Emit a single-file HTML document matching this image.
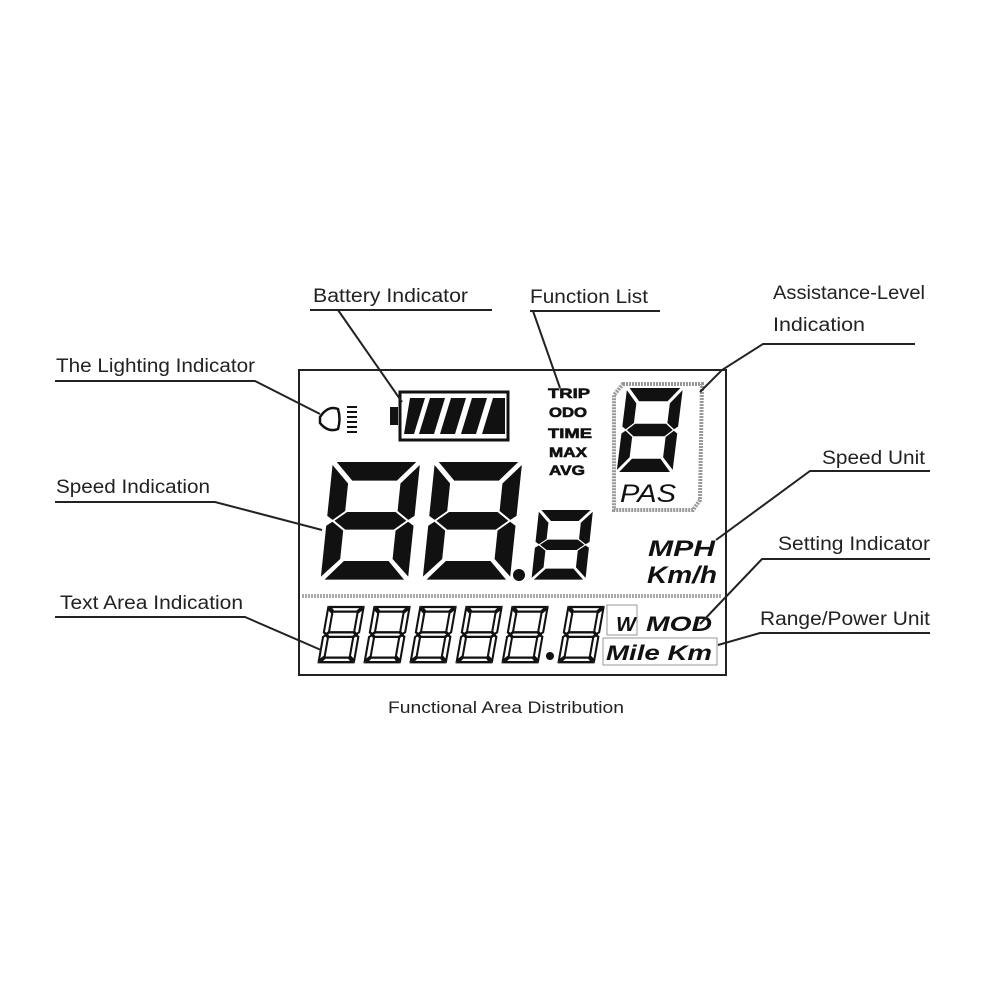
<!DOCTYPE html>
<html><head><meta charset="utf-8"><style>
html,body{margin:0;padding:0;background:#fff;}
svg{display:block}
.lb{font-family:"Liberation Sans",sans-serif;font-size:19px;fill:#222;}
</style></head><body>
<svg width="1000" height="1000" viewBox="0 0 1000 1000" xmlns="http://www.w3.org/2000/svg">
<defs>
<g id="dg">
<polygon points="9,0 91,0 73,19 27,19"/>
<polygon points="95,3 95,55 89,59 77,50 77,22"/>
<polygon points="5,3 23,22 23,50 11,59 5,55"/>
<polygon points="13,60 25,51 75,51 87,60 75,69 25,69"/>
<polygon points="5,65 11,61 23,70 23,99 5,117"/>
<polygon points="95,65 89,61 77,70 77,99 95,117"/>
<polygon points="27,101 73,101 91,120 9,120"/>
</g>
<g id="dgo">
<polygon points="12,0 88,0 78,10 22,10"/>
<polygon points="92,3 92,55 86,59 80,54 80,13"/>
<polygon points="8,3 20,13 20,54 14,59 8,55"/>
<polygon points="14,60 22,55 78,55 86,60 78,65 22,65"/>
<polygon points="8,65 14,61 20,66 20,107 8,117"/>
<polygon points="92,65 86,61 80,66 80,107 92,117"/>
<polygon points="22,110 78,110 88,120 12,120"/>
</g>
</defs>
<rect x="0" y="0" width="1000" height="1000" fill="#fff"/>
<rect x="299" y="370" width="427" height="305" fill="none" stroke="#222" stroke-width="2"/>
<line x1="302" y1="596" x2="722" y2="596" stroke="#aaa" stroke-width="4" stroke-dasharray="2,1"/>
<path d="M320,417 q8,-12 18,-8 q3,10 0,20 q-10,4 -18,-6 z" fill="none" stroke="#111" stroke-width="2.5"/>
<g stroke="#111" stroke-width="2"><line x1="347" y1="407" x2="357" y2="407"/><line x1="347" y1="412" x2="357" y2="412"/><line x1="347" y1="417" x2="357" y2="417"/><line x1="347" y1="422" x2="357" y2="422"/><line x1="347" y1="427" x2="357" y2="427"/><line x1="347" y1="432" x2="357" y2="432"/></g>
<rect x="390" y="407" width="8" height="18" fill="#111"/>
<rect x="400" y="392" width="108" height="48" fill="none" stroke="#111" stroke-width="3"/>
<g fill="#111">
<polygon points="410,398 425,398 414,434 404,434"/>
<polygon points="430,398 445,398 434,434 419,434"/>
<polygon points="451,398 466,398 455,434 440,434"/>
<polygon points="472,398 487,398 476,434 461,434"/>
<polygon points="493,398 505,398 505,434 482,434"/>
</g>
<g font-family="Liberation Sans,sans-serif" font-weight="bold" font-size="14" fill="#111" stroke="#111" stroke-width="0.6" lengthAdjust="spacingAndGlyphs">
<text x="548" y="398" textLength="42" lengthAdjust="spacingAndGlyphs">TRIP</text><text x="549" y="417" textLength="38" lengthAdjust="spacingAndGlyphs">ODO</text><text x="548" y="438" textLength="44" lengthAdjust="spacingAndGlyphs">TIME</text><text x="549" y="457" textLength="38" lengthAdjust="spacingAndGlyphs">MAX</text><text x="549" y="475" textLength="36" lengthAdjust="spacingAndGlyphs">AVG</text>
</g>
<path d="M623,384 L702,384 L700,500 L693,510 L614,510 L614,395 Z" fill="none" stroke="#999" stroke-width="4" stroke-dasharray="2,1"/>
<use href="#dg" transform="translate(624,388) scale(0.62,0.7) skewX(-8)" fill="#111"/>
<text x="620" y="502" font-family="Liberation Sans,sans-serif" font-style="italic" font-size="25" fill="#111" textLength="56" lengthAdjust="spacingAndGlyphs">PAS</text>
<use href="#dg" transform="translate(328,462) scale(0.97,0.98) skewX(-6)" fill="#111"/>
<use href="#dg" transform="translate(430,462) scale(0.97,0.98) skewX(-6)" fill="#111"/>
<circle cx="519" cy="575" r="6" fill="#111"/>
<use href="#dg" transform="translate(536,510) scale(0.6,0.58) skewX(-6)" fill="#111"/>
<g font-family="Liberation Sans,sans-serif" font-style="italic" font-weight="bold" fill="#111">
<text x="648" y="556" font-size="22" textLength="67" lengthAdjust="spacingAndGlyphs">MPH</text>
<text x="647" y="583" font-size="24" textLength="70" lengthAdjust="spacingAndGlyphs">Km/h</text>
<text x="616" y="631" font-size="20" textLength="20" lengthAdjust="spacingAndGlyphs">W</text>
<text x="646" y="631" font-size="21" textLength="66" lengthAdjust="spacingAndGlyphs">MOD</text>
<text x="606" y="660" font-size="21" textLength="106" lengthAdjust="spacingAndGlyphs">Mile Km</text>
</g>
<rect x="607" y="605" width="30" height="30" fill="none" stroke="#999" stroke-width="1"/>
<rect x="603" y="638" width="114" height="27" fill="none" stroke="#999" stroke-width="1"/>
<g fill="none" stroke="#111" stroke-width="5" transform="skewX(-10)">
<use href="#dgo" transform="translate(432,607) scale(0.42,0.46)"/>
<use href="#dgo" transform="translate(478,607) scale(0.42,0.46)"/>
<use href="#dgo" transform="translate(524,607) scale(0.42,0.46)"/>
<use href="#dgo" transform="translate(570,607) scale(0.42,0.46)"/>
<use href="#dgo" transform="translate(616,607) scale(0.42,0.46)"/>
<use href="#dgo" transform="translate(672,607) scale(0.42,0.46)"/>
</g>
<circle cx="550" cy="656" r="4" fill="#111"/>
<g stroke="#222" stroke-width="2" fill="none">
<polyline points="310,310 492,310"/><polyline points="338,310 402,402"/>
<polyline points="530,311 660,311"/><polyline points="533,311 560,388"/>
<polyline points="915,344 763,344 722,370 700,392"/>
<polyline points="55,381 255,381 320,414"/>
<polyline points="55,502 215,502 322,530"/>
<polyline points="930,471 810,471 716,540"/>
<polyline points="930,559 762,559 700,624"/>
<polyline points="930,633 760,633 718,645"/>
<polyline points="55,617 245,617 321,650"/>
</g>
<text class="lb" x="313" y="302" textLength="155" lengthAdjust="spacingAndGlyphs">Battery Indicator</text>
<text class="lb" x="530" y="303" textLength="118" lengthAdjust="spacingAndGlyphs">Function List</text>
<text class="lb" x="773" y="299" textLength="152" lengthAdjust="spacingAndGlyphs">Assistance-Level</text>
<text class="lb" x="773" y="331" textLength="92" lengthAdjust="spacingAndGlyphs">Indication</text>
<text class="lb" x="56" y="372" textLength="199" lengthAdjust="spacingAndGlyphs">The Lighting Indicator</text>
<text class="lb" x="56" y="493" textLength="154" lengthAdjust="spacingAndGlyphs">Speed Indication</text>
<text class="lb" x="822" y="464" textLength="103" lengthAdjust="spacingAndGlyphs">Speed Unit</text>
<text class="lb" x="778" y="550" textLength="152" lengthAdjust="spacingAndGlyphs">Setting Indicator</text>
<text class="lb" x="760" y="625" textLength="170" lengthAdjust="spacingAndGlyphs">Range/Power Unit</text>
<text class="lb" x="60" y="609" textLength="183" lengthAdjust="spacingAndGlyphs">Text Area Indication</text>
<text x="388" y="713" font-family="Liberation Sans,sans-serif" font-size="17" fill="#222" textLength="236" lengthAdjust="spacingAndGlyphs">Functional Area Distribution</text>
</svg>
</body></html>
